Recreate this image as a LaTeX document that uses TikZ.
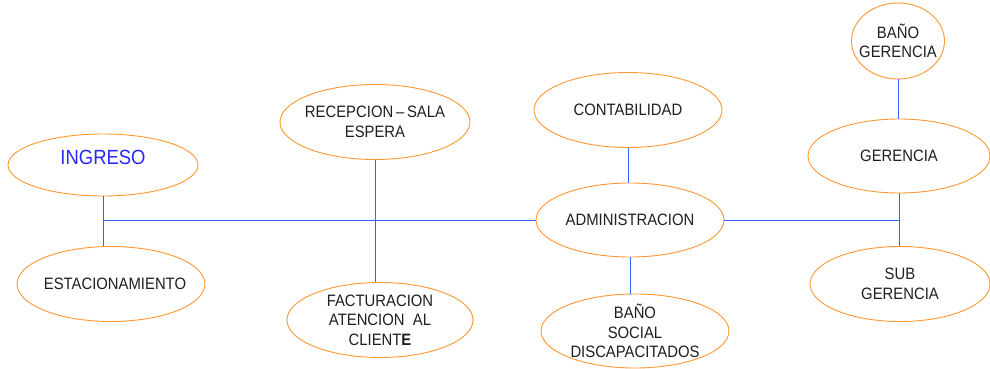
\documentclass[tikz,border=0pt]{standalone}
\usepackage{fontspec}
\setmainfont{Liberation Sans}[FakeStretch=0.9]
\usetikzlibrary{shapes.geometric}
\definecolor{borde}{RGB}{255,150,50}
\definecolor{linea}{RGB}{50,100,255}
\definecolor{titulo}{RGB}{40,40,255}
\begin{document}
\begin{tikzpicture}[x=1pt, y=-1pt,
    area/.style={ellipse, draw=borde, line width=0.9pt, inner sep=0pt},
    rotulo/.style={align=center, inner sep=0pt, text=black!88,
        font=\fontsize{16.5}{19.5}\selectfont},
    enlace/.style={draw=linea, line width=0.9pt}]
    \useasboundingbox (0,0) rectangle (990,369);

    % ambientes
    \node[area, minimum width=190, minimum height=62,
        label={[rotulo, text=titulo, yshift=8pt, font=\fontsize{20.5}{22}\selectfont]center:INGRESO}] (ingreso) at (103,165) {};
    \node[area, minimum width=188, minimum height=75,
        label={[rotulo, xshift=4pt]center:ESTACIONAMIENTO}] (estac) at (111,284) {};
    \node[area, minimum width=190, minimum height=75,
        label={[rotulo]center:RECEPCION\,--\,SALA\\ESPERA}] (recep) at (375,122) {};
    \node[area, minimum width=186, minimum height=75,
        label={[rotulo]center:FACTURACION\\ATENCION\ \ AL\\CLIENT\textbf{E}}] (factu) at (380,320) {};
    \node[area, minimum width=188, minimum height=75,
        label={[rotulo]center:CONTABILIDAD}] (contab) at (628,110) {};
    \node[area, minimum width=188, minimum height=74,
        label={[rotulo]center:ADMINISTRACION}] (admin) at (630,220) {};
    \node[area, minimum width=188, minimum height=74,
        label={[rotulo]center:BAÑO\\SOCIAL\\DISCAPACITADOS}] (banosoc) at (635,331) {};
    \node[area, minimum width=93, minimum height=76,
        label={[rotulo]center:BAÑO\\GERENCIA}] (banoger) at (898,41) {};
    \node[area, minimum width=182, minimum height=74,
        label={[rotulo]center:GERENCIA}] (geren) at (899,156) {};
    \node[area, minimum width=180, minimum height=75,
        label={[rotulo]center:SUB\\GERENCIA}] (subger) at (900,284) {};

    \coordinate (izq) at (ingreso.south |- admin.west);
    \coordinate (der) at (geren.south |- admin.east);

    % conexiones
    \draw[enlace] (ingreso.south) -- (ingreso.south |- estac.north);
    \draw[enlace] (izq) -- (admin.west);
    \draw[enlace] (recep.south) -- (recep.south |- factu.north);
    \draw[enlace] (contab.south) -- (contab.south |- admin.north);
    \draw[enlace] (admin.south) -- (admin.south |- banosoc.north);
    \draw[enlace] (admin.east) -- (der);
    \draw[enlace] (banoger.south) -- (banoger.south |- geren.north);
    \draw[enlace] (geren.south) -- (geren.south |- subger.north);
\end{tikzpicture}
\end{document}
